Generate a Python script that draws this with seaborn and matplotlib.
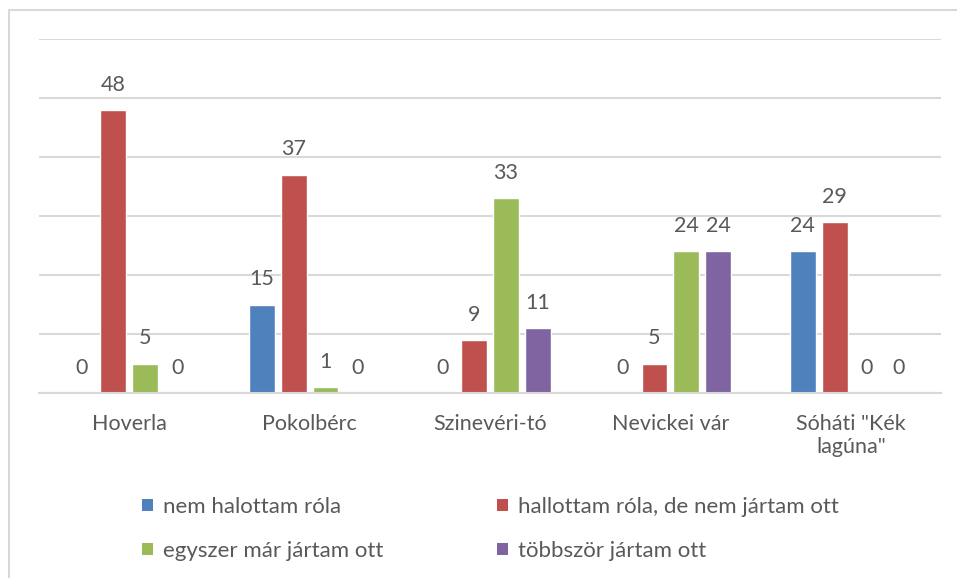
import matplotlib
matplotlib.use("Agg")
import matplotlib.pyplot as plt
import seaborn as sns
import pandas as pd
from matplotlib.patches import Rectangle, Patch

categories = ["Hoverla", "Pokolbérc", "Szinevéri-tó", "Nevickei vár", "Sóháti \"Kék\nlagúna\""]
series_names = ["nem halottam róla", "hallottam róla, de nem jártam ott",
                "egyszer már jártam ott", "többször jártam ott"]
nem_halottam = [0, 15, 0, 0, 24]
hallottam = [48, 37, 9, 5, 29]
egyszer = [5, 1, 33, 24, 0]
tobbszor = [0, 0, 11, 24, 0]
colors = ["#4F81BD", "#C0504D", "#9BBB59", "#8064A2"]

rows = []
for name, vals in zip(series_names, [nem_halottam, hallottam, egyszer, tobbszor]):
    for c, v in zip(categories, vals):
        rows.append({"cat": c, "series": name, "value": v})
df = pd.DataFrame(rows)

sns.set_theme(style="white")
plt.rcParams["font.family"] = ["Lato", "DejaVu Sans"]
text_color = "#595959"
fs = 15.5

fig = plt.figure(figsize=(9.57, 5.78), dpi=100)
ax = fig.add_axes([39 / 957, 1 - 393 / 578, (941 - 39) / 957, (393 - 39) / 578])

sns.barplot(data=df, x="cat", y="value", hue="series", hue_order=series_names,
            order=categories, palette=colors, width=0.708, gap=0.19,
            saturation=1, ax=ax, legend=False, errorbar=None)

for cont in ax.containers:
    ax.bar_label(cont, padding=11, fontsize=fs, color=text_color)

ax.set_ylim(0, 60)
ax.set_xlim(-0.5, 4.5)
ax.set_yticks(range(0, 61, 10))
ax.set_yticklabels([])
ax.yaxis.grid(True, color="#D9D9D9", linewidth=1.5)
ax.set_axisbelow(True)
for s in ["top", "right", "left"]:
    ax.spines[s].set_visible(False)
ax.spines["bottom"].set_color("#D9D9D9")
ax.spines["bottom"].set_linewidth(1.5)
ax.set_xlabel("")
ax.set_ylabel("")
ax.tick_params(axis="x", length=0, pad=15, labelsize=fs, labelcolor=text_color)
ax.tick_params(axis="y", length=0)

order = [0, 2, 1, 3]
handles = [Patch(facecolor=colors[i], edgecolor="none") for i in order]
labels = [series_names[i] for i in order]
leg = fig.legend(handles, labels, loc="upper left",
                 bbox_to_anchor=(122 / 957, 1 - 477 / 578), ncol=2, frameon=False,
                 fontsize=16, labelcolor=text_color, handlelength=0.5, handleheight=0.5,
                 handletextpad=0.45, columnspacing=5.1, labelspacing=1.08)

fig.patches.append(Rectangle((9 / 957, -0.1), 1.2, 1 - 10 / 578 + 0.1,
                             transform=fig.transFigure, fill=False,
                             edgecolor="#D9D9D9", linewidth=1.5))

fig.savefig("out.png", dpi=100, facecolor="white")
